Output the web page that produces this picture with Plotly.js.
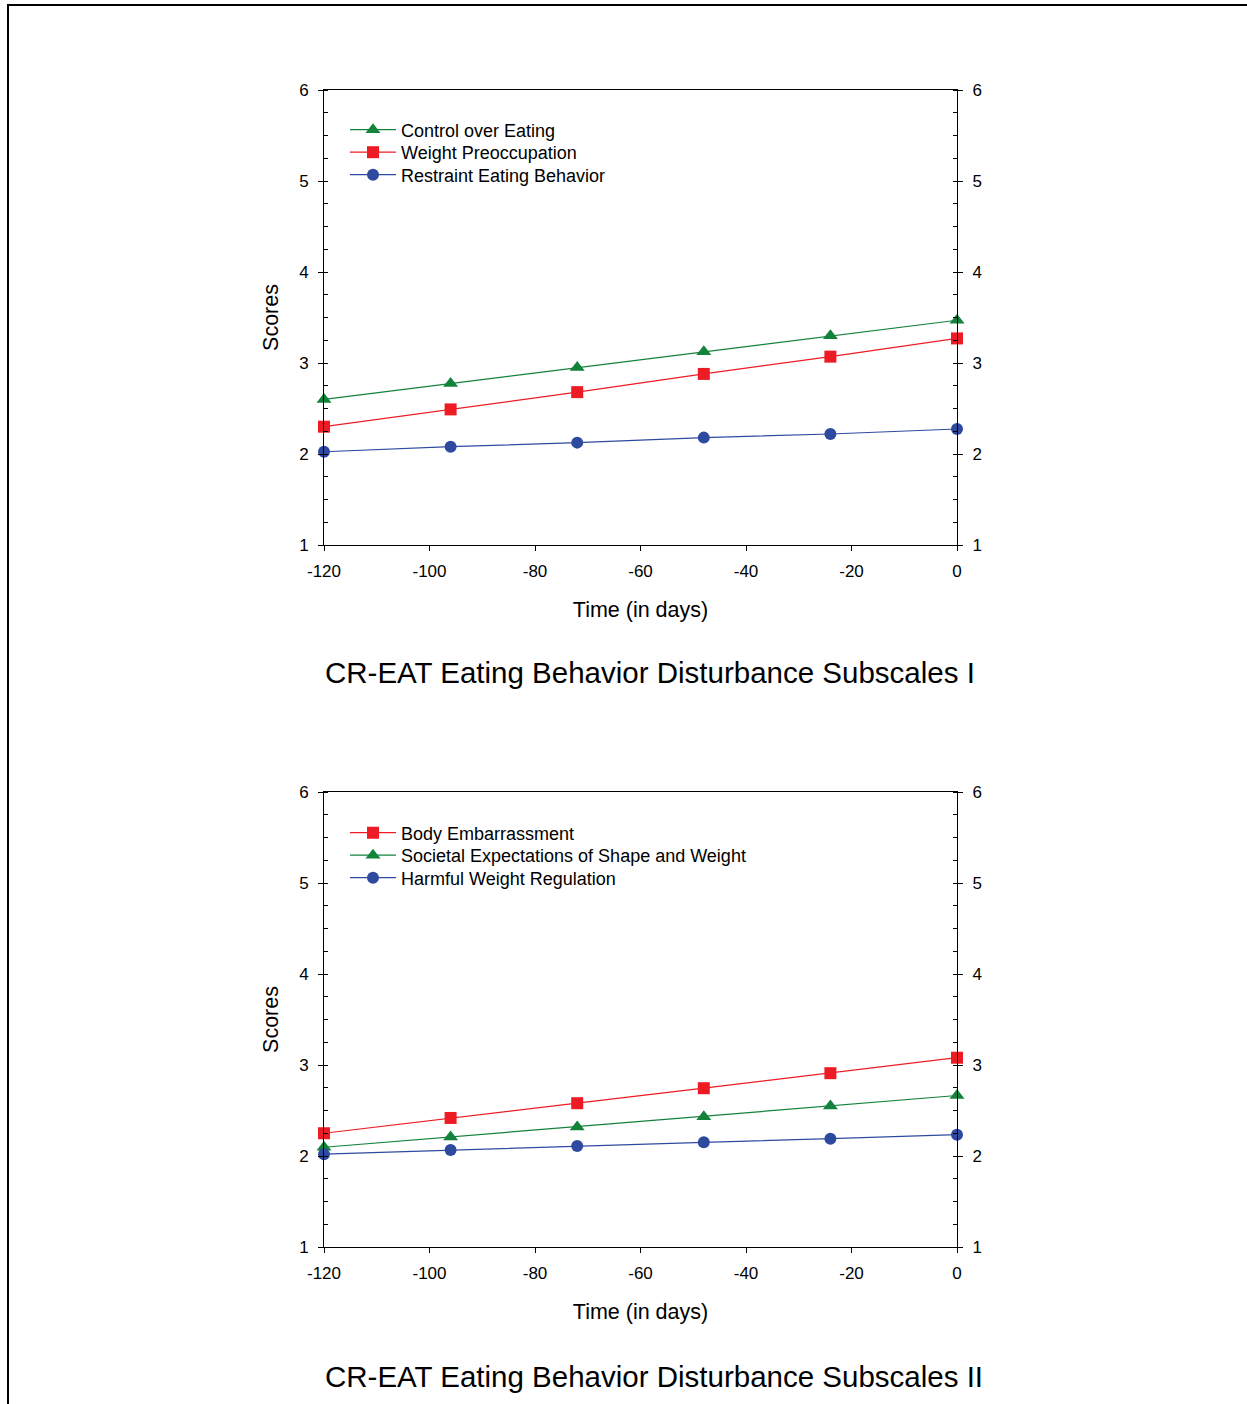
<!DOCTYPE html>
<html>
<head>
<meta charset="utf-8">
<script src="https://cdn.plot.ly/plotly-3.0.1.min.js"></script>
<style>
  html, body { margin: 0; padding: 0; background: #fff; }
  #frame { position: absolute; left: 7px; top: 4px; width: 1240px; height: 1400px;
           border-top: 2px solid #000; border-left: 2px solid #000; box-sizing: border-box; }
  #chart { position: absolute; left: 0; top: 0; width: 1247px; height: 1404px; }
</style>
</head>
<body>
<div id="frame"></div>
<div id="chart"></div>
<script>
// ---- data ----
const days = [-120, -96, -72, -48, -24, 0];
const xTickVals = [-120, -100, -80, -60, -40, -20, 0];
const xTickText = ["-120", "-100", "-80", "-60", "-40", "-20", "0"];
const yTickVals = [1, 2, 3, 4, 5, 6];

// Panel I
const controlOverEating = [2.60, 2.775, 2.95, 3.125, 3.30, 3.47];
const weightPreoccupation = [2.30, 2.49, 2.68, 2.88, 3.07, 3.27];
const restraintEating = [2.025, 2.08, 2.125, 2.18, 2.22, 2.275];

// Panel II
const bodyEmbarrassment = [2.25, 2.418, 2.58, 2.745, 2.91, 3.08];
const societalExpectations = [2.096, 2.21, 2.32, 2.43, 2.55, 2.665];
const harmfulWeightReg = [2.02, 2.066, 2.11, 2.15, 2.19, 2.234];

const titles = ["CR-EAT Eating Behavior Disturbance Subscales I",
                "CR-EAT Eating Behavior Disturbance Subscales II"];

// ---- styles ----
const GREEN = "#13823b", RED = "#ed1c24", BLUE = "#2e4a9f";
const FONT = "Liberation Sans, Arial, sans-serif";
const W = 1247, H = 1404;

function tr(name, y, color, symbol, xa, ya, legend) {
  return {
    x: days, y: y, name: name, type: "scatter", mode: "lines+markers",
    xaxis: xa, yaxis: ya, legend: legend, cliponaxis: false,
    line: { color: color, width: 1.2 },
    marker: { color: color, symbol: symbol, size: symbol === "triangle-up" ? 13 : 12 }
  };
}
// empty helper traces so the mirrored right-hand axes get drawn
function axisHolder(xa, ya) {
  return { x: [], y: [], type: "scatter", mode: "markers", xaxis: xa, yaxis: ya,
           showlegend: false, hoverinfo: "skip" };
}

const data = [
  tr("Control over Eating", controlOverEating, GREEN, "triangle-up", "x", "y", "legend"),
  tr("Weight Preoccupation", weightPreoccupation, RED, "square", "x", "y", "legend2"),
  tr("Restraint Eating Behavior", restraintEating, BLUE, "circle", "x", "y", "legend3"),
  tr("Body Embarrassment", bodyEmbarrassment, RED, "square", "x2", "y3", "legend4"),
  tr("Societal Expectations of Shape and Weight", societalExpectations, GREEN, "triangle-up", "x2", "y3", "legend5"),
  tr("Harmful Weight Regulation", harmfulWeightReg, BLUE, "circle", "x2", "y3", "legend6"),
  axisHolder("x", "y2"),
  axisHolder("x2", "y4")
];

const xDom = [324 / W, 957 / W];
const yDomTop = [1 - 545 / H, 1 - 90 / H];
const yDomBot = [1 - 1247 / H, 1 - 792 / H];

function xaxis(anchor) {
  return {
    domain: xDom, anchor: anchor, range: [-120, 0], fixedrange: true,
    tickmode: "array", tickvals: xTickVals, ticktext: xTickText,
    ticks: "outside", ticklen: 5, tickwidth: 1, tickcolor: "#000",
    ticklabelstandoff: 6,
    showline: true, linecolor: "#000", linewidth: 1, mirror: true,
    showgrid: false, zeroline: false, automargin: false,
    tickfont: { family: FONT, size: 17, color: "#000" },
    title: { text: "Time (in days)", font: { family: FONT, size: 21.5, color: "#000" }, standoff: 21 }
  };
}
function yaxis(dom, anchor, side, overlay, withTitle) {
  const a = {
    domain: dom, anchor: anchor, side: side, range: [1, 6], fixedrange: true,
    tickmode: "array", tickvals: yTickVals,
    ticks: "outside", ticklen: 5, tickwidth: 1, tickcolor: "#000",
    ticklabelstandoff: 6,
    minor: { dtick: 0.25, ticks: "inside", ticklen: 4, tickwidth: 1, tickcolor: "#000", showgrid: false },
    showline: true, linecolor: "#000", linewidth: 1,
    showgrid: false, zeroline: false, automargin: false,
    tickfont: { family: FONT, size: 17, color: "#000" }
  };
  if (overlay) a.overlaying = overlay;
  if (withTitle) a.title = { text: "Scores", font: { family: FONT, size: 21.5, color: "#000" }, standoff: 14 };
  return a;
}

function legendAt(centerY) {
  return {
    x: 345 / W, y: 1 - (centerY - 18.5) / H, xanchor: "left", yanchor: "top",
    bgcolor: "rgba(0,0,0,0)", borderwidth: 0,
    font: { family: FONT, size: 18, color: "#000" }, itemwidth: 46
  };
}

const layout = {
  width: W, height: H,
  margin: { l: 0, r: 0, t: 0, b: 0 },
  paper_bgcolor: "rgba(0,0,0,0)", plot_bgcolor: "rgba(0,0,0,0)",
  font: { family: FONT, color: "#000" },
  showlegend: true,
  xaxis: xaxis("y"),
  xaxis2: xaxis("y3"),
  yaxis: yaxis(yDomTop, "x", "left", null, true),
  yaxis2: yaxis(yDomTop, "x", "right", "y", false),
  yaxis3: yaxis(yDomBot, "x2", "left", null, true),
  yaxis4: yaxis(yDomBot, "x2", "right", "y3", false),
  legend: legendAt(130),
  legend2: legendAt(152.5),
  legend3: legendAt(175),
  legend4: legendAt(833),
  legend5: legendAt(855.5),
  legend6: legendAt(878),
  annotations: [
    { text: titles[0], xref: "paper", yref: "paper", x: 650 / W, y: 1 - 673 / H,
      xanchor: "center", yanchor: "middle", showarrow: false,
      font: { family: FONT, size: 29.5, color: "#000" } },
    { text: titles[1], xref: "paper", yref: "paper", x: 654 / W, y: 1 - 1376 / H,
      xanchor: "center", yanchor: "middle", showarrow: false,
      font: { family: FONT, size: 29.5, color: "#000" } }
  ]
};

Plotly.newPlot("chart", data, layout, { staticPlot: true, displayModeBar: false });
</script>
</body>
</html>
